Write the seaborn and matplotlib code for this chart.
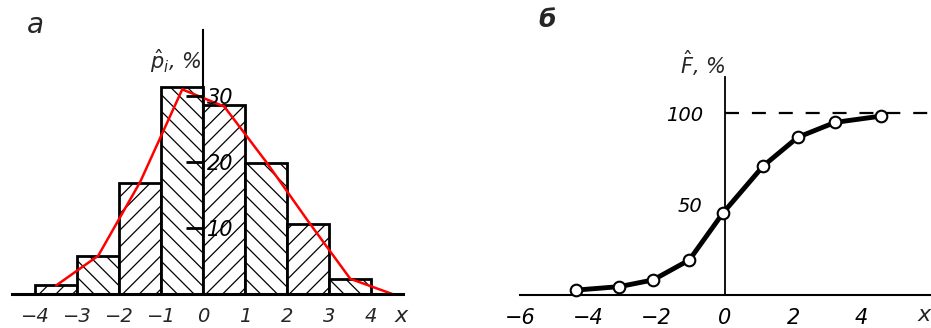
import numpy as np
import pandas as pd
import matplotlib
matplotlib.use("Agg")
import matplotlib.pyplot as plt
import seaborn as sns

# panel a: histogram of relative frequencies, %
bin_edges = [-4, -3, -2, -1, 0, 1, 2, 3, 4]
bin_heights = [1.4, 5.8, 16.8, 31.4, 28.6, 19.8, 10.6, 2.3]
hatches = ["//", "\\\\", "//", "\\\\", "//", "\\\\", "//", "\\\\"]
# red frequency polygon
poly_x = [-3.5, -2.5, -1.5, -0.5, 0.5, 1.5, 2.5, 3.5, 4.5]
poly_y = [1.3, 5.8, 17.0, 31.0, 28.4, 20.0, 11.0, 2.3, 0.0]
a_yticks = [10, 20, 30]
a_xticks = [-4, -3, -2, -1, 0, 1, 2, 3, 4]

# panel b: empirical distribution function, %
cdf_x = [-4.36, -3.09, -2.10, -1.04, -0.05, 1.12, 2.13, 3.22, 4.58]
cdf_y = [2.7, 4.6, 8.3, 19.3, 45.3, 71.0, 86.8, 95.0, 98.5]
b_yticks = [50, 100]
b_xticks = [-6, -4, -2, 0, 2, 4]
F_LIMIT = 100

sns.set_style("white")
plt.rcParams["font.family"] = ["DejaVu Sans"]
plt.rcParams["mathtext.fontset"] = "dejavusans"
plt.rcParams["hatch.linewidth"] = 0.9

W, H = 931, 328
fig = plt.figure(figsize=(W / 100, H / 100), dpi=100)

# ---------------- panel a ----------------
ax1 = fig.add_axes([10 / W, 34 / H, 397 / W, 264 / H])
ax1.set_axisbelow(False)
mids = [(bin_edges[i] + bin_edges[i + 1]) / 2 for i in range(len(bin_heights))]
hist_df = pd.DataFrame({"x": mids, "w": bin_heights})
sns.histplot(data=hist_df, x="x", weights="w", bins=bin_edges, stat="count",
             ax=ax1, fill=True, color="white", edgecolor="black", linewidth=2)
for p, h in zip(ax1.patches, hatches):
    p.set_hatch(h)
    p.set_facecolor("white")
    p.set_clip_on(False)

poly_df = pd.DataFrame({"x": poly_x, "y": poly_y})
sns.lineplot(data=poly_df, x="x", y="y", color="red", lw=1.8, sort=False, ax=ax1)

ax1.set_xlim(-4.6, 4.85)
ax1.set_ylim(0, 40)
ax1.spines["top"].set_visible(False)
ax1.spines["left"].set_position(("data", 0))
ax1.spines["left"].set_visible(True)
ax1.spines["left"].set_linewidth(1.5)
ax1.spines["left"].set_color("black")
ax1.spines["bottom"].set_bounds(-4.55, 4.76)
ax1.spines["bottom"].set_linewidth(2.2)
ax1.spines["bottom"].set_color("black")
ax1.spines["right"].set_position(("data", 0))
ax1.spines["right"].set_visible(False)

ax1.set_yticks(a_yticks)
ax1.set_yticklabels([str(v) for v in a_yticks], fontsize=15, style="italic")
ax1.tick_params(axis="y", left=False, right=True, labelleft=False, labelright=True,
                direction="in", length=12, width=2, pad=3, colors="black")
ax1.set_xticks(a_xticks)
ax1.set_xticklabels([f"\u2212{abs(v)}" if v < 0 else str(v) for v in a_xticks],
                    fontsize=14, style="italic")
ax1.tick_params(axis="x", length=0, pad=9)
ax1.set_xlabel("")
ax1.set_ylabel("")
ax1.text(0.985, -0.045, "x", transform=ax1.transAxes, fontsize=16, style="italic",
         ha="center", va="top")
ax1.text(-0.05, 35.2, r"$\hat{p}_i$, %", fontsize=15, style="italic", ha="right", va="center")
fig.text(35 / W, 1 - 25 / H, "а", fontsize=20, style="italic", ha="center", va="center")

# ---------------- panel б ----------------
ax2 = fig.add_axes([513 / W, 33 / H, 417 / W, 218 / H])
cdf_df = pd.DataFrame({"x": cdf_x, "y": cdf_y})
sns.lineplot(data=cdf_df, x="x", y="y", color="black", lw=3.5, sort=False, ax=ax2)
sns.scatterplot(data=cdf_df, x="x", y="y", s=70, color="white", edgecolor="black",
                linewidth=1.5, zorder=5, ax=ax2, clip_on=False)

xl = (-6.2, 6.0)
ax2.set_xlim(*xl)
ax2.set_ylim(0, 120)
ax2.axhline(F_LIMIT, xmin=(0 - xl[0]) / (xl[1] - xl[0]), xmax=1, color="black",
            lw=1.6, dashes=(6.3, 5.8))
ax2.spines["top"].set_visible(False)
ax2.spines["right"].set_visible(False)
ax2.spines["left"].set_position(("data", 0))
ax2.spines["left"].set_linewidth(1.3)
ax2.spines["left"].set_color("black")
ax2.spines["bottom"].set_bounds(-6, 6)
ax2.spines["bottom"].set_linewidth(1.5)
ax2.spines["bottom"].set_color("black")

ax2.set_yticks(b_yticks)
ax2.set_yticklabels([str(v) for v in b_yticks], fontsize=14, style="italic")
ax2.tick_params(axis="y", direction="out", length=3, width=1, pad=13, colors="black")
ax2.set_xticks(b_xticks + [6])
ax2.set_xticklabels([f"\u2212{abs(v)}" if v < 0 else str(v) for v in b_xticks] + [""],
                    fontsize=15, style="italic")
ax2.tick_params(axis="x", direction="in", length=5, width=1, pad=9, colors="black")
ax2.set_xlabel("")
ax2.set_ylabel("")
ax2.text(0.985, -0.045, "x", transform=ax2.transAxes, fontsize=16, style="italic",
         ha="center", va="top")
ax2.text(-0.64, 127.5, r"$\hat{F}$, %", fontsize=15, style="italic", ha="center",
         va="center", clip_on=False)
fig.text(547 / W, 1 - 20 / H, "б", fontsize=18, style="italic", weight="bold",
         ha="center", va="center")

fig.savefig("out.png", dpi=100)
